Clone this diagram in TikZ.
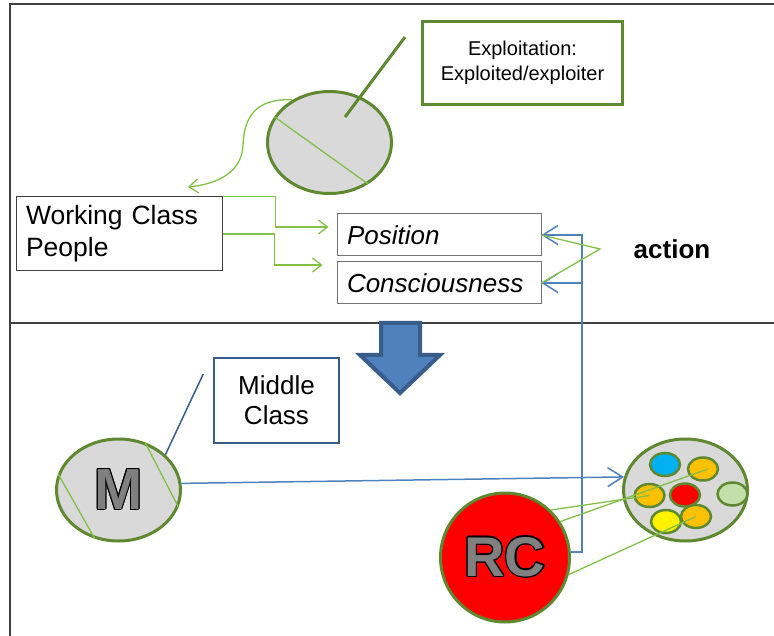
\documentclass[tikz,border=0pt]{standalone}
\usepackage{fontspec}
\setmainfont{Liberation Sans}
\usepackage{contour}
\usetikzlibrary{shapes.geometric, arrows.meta, positioning}
\definecolor{dkgreen}{RGB}{95,137,48}
\definecolor{ltgreen}{RGB}{130,192,72}
\definecolor{lnblue}{RGB}{79,129,189}
\definecolor{dkblue}{RGB}{56,93,138}
\definecolor{cellgray}{RGB}{217,217,217}
\definecolor{skyblue}{RGB}{0,176,240}
\definecolor{amber}{RGB}{255,192,0}
\definecolor{palegreen}{RGB}{196,224,170}
\contourlength{1.2pt}
\contournumber{12}
\tikzstyle{textbox} = [rectangle, draw=black!55, line width=1pt, align=left, text width=184pt, inner xsep=10pt, minimum height=42pt, font=\fontsize{26}{32}\selectfont\itshape]
\tikzstyle{cell} = [ellipse, draw=dkgreen, line width=3pt, fill=cellgray, minimum width=124pt, minimum height=102pt]
\tikzstyle{member} = [ellipse, draw=dkgreen, line width=2.5pt, minimum width=30pt, minimum height=23pt, inner sep=0pt]
\tikzstyle{bigletter} = [font=\fontsize{58}{58}\selectfont\bfseries]
\tikzstyle{greenarrow} = [ltgreen, line width=1.3pt, -{Straight Barb[length=9pt,width=14pt]}]
\tikzstyle{bluearrow} = [lnblue, line width=1.5pt, -{Straight Barb[length=15pt,width=19pt]}]
\tikzstyle{chord} = [ltgreen, line width=1.3pt]

\begin{document}
\begin{tikzpicture}[x=1pt, y=-1pt]
        \useasboundingbox (0,0) rectangle (774,636);
        % frame
        \draw [black!75, line width=1.5pt] (10,636) -- (10,4) -- (774,4);
        \draw [black!75, line width=1.5pt] (10,323) -- (774,323);

        \node (exploit) [rectangle, draw=dkgreen, line width=3pt, minimum width=200pt, minimum height=83pt, align=center, font=\fontsize{20}{25}\selectfont] at (522.5,63) {Exploitation:\\Exploited/exploiter};
        \node (ell) [cell] at (329.5,142.5) {};
        \node (working) [textbox, draw=black!75, text width=186pt, minimum height=74pt, font=\fontsize{26.5}{32}\selectfont] at (119,234) {Working Class\\People};
        \node (position) [textbox] at (439,235) {Position};
        \node (conscious) [textbox, below=5pt of position] {Consciousness};
        \node (action) [font=\fontsize{26}{30}\selectfont\bfseries] at (672,249) {action};
        \node (middle) [rectangle, draw=dkblue, line width=1.5pt, minimum width=125pt, minimum height=85pt, align=center, font=\fontsize{26}{30}\selectfont] at (276.5,400.5) {Middle\\Class};
        \node (mell) [cell, bigletter] at (118.5,490) {\contour{black}{\textcolor{gray}{M}}};
        \node (group) [cell] at (685.5,490) {};
        \node (rc) [circle, draw=dkgreen, line width=3pt, fill=red, minimum size=129pt, font=\fontsize{56}{56}\selectfont\bfseries] at (505,557.5) {\contour{black}{\textcolor{gray}{RC}}};

        % members of the group
        \node (mcyan) [member, fill=skyblue] at (665,464.5) {};
        \node (otr) [member, fill=amber] at (703,469) {};
        \node (oleft) [member, fill=amber] at (649.5,495.5) {};
        \node (mred) [member, fill=red] at (685,495) {};
        \node (mpale) [member, fill=palegreen] at (732.5,494) {};
        \node (obot) [member, fill=amber] at (696,516.5) {};
        \node (myellow) [member, fill=yellow] at (666,521.5) {};

        \coordinate (exptip) at (405,37);
        \coordinate (curveend) at (188,187);
        \coordinate (vertex) at (600,249);

        % block arrow
        \draw [dkblue, line width=4pt, fill=lnblue, line join=miter] (381,323) -- (420,323) -- (420,355) -- (440,355) -- (400,393) -- (360,355) -- (381,355) -- cycle;

        \draw [chord] (ell.155) -- (ell.313);
        \draw [dkgreen, line width=3pt] (exptip) -- ([xshift=15.5pt,yshift=25.5pt]ell.center);
        \draw [greenarrow] (ell.131) .. controls (255,98) and (244,118) .. (243,145) .. controls (242,172) and (218,184) .. (curveend);

        \draw [greenarrow, shorten >=8pt] (working.north east) -- ++(53,0) |- ([yshift=8pt]position.west);
        \draw [greenarrow, shorten >=14pt] (working.east) -- ++(52,0) |- ([yshift=18pt]conscious.west);

        \draw [bluearrow] (rc.5) -| ([xshift=40.5pt]position.east) -- (position.east);
        \draw [bluearrow] ([xshift=40.5pt]conscious.east) -- (conscious.east);
        \draw [chord] (position.east) -- (vertex) -- (conscious.east);

        \draw [dkblue, line width=1.5pt] ([xshift=-10pt,yshift=26.5pt]middle.west) -- (mell.37);
        \draw [chord] (mell.165) -- (mell.244);
        \draw [chord] (mell.61) -- (mell.344);
        \draw [bluearrow] (mell.6) -- (group.168);

        \draw [chord] (rc.46) -- (oleft.center);
        \draw [chord] (rc.33) -- ([xshift=5pt]otr.center);
        \draw [chord] (rc.345) -- (obot.center);

\end{tikzpicture}
\end{document}
